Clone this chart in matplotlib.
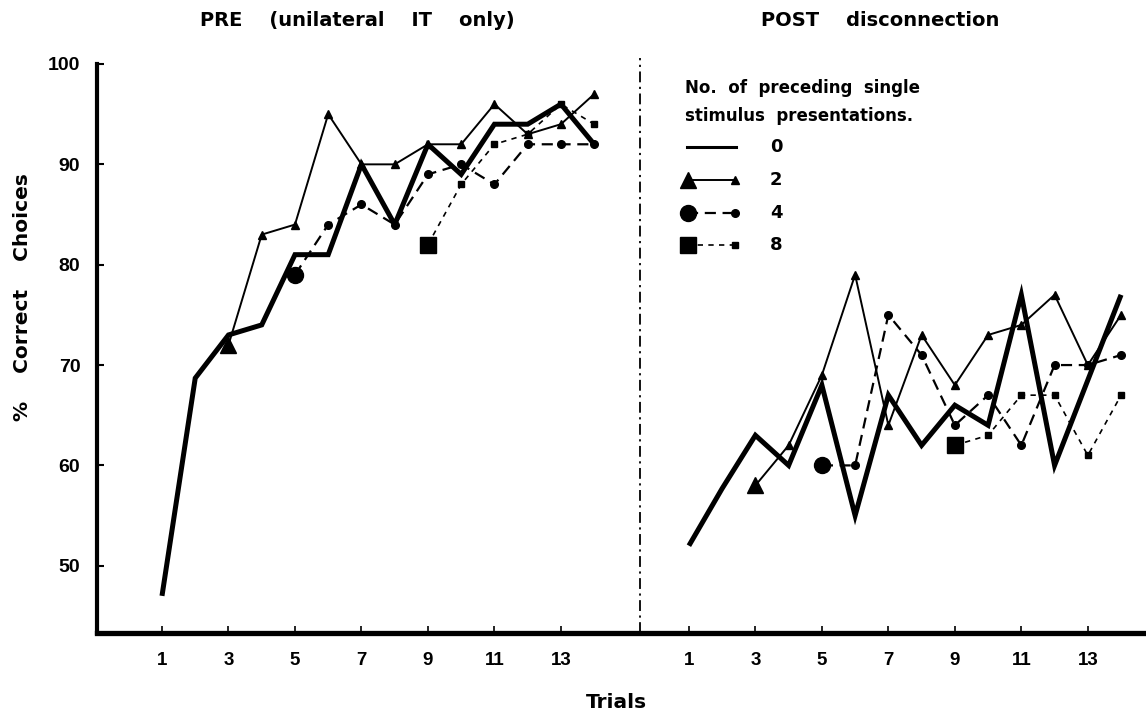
import matplotlib
matplotlib.use("Agg")
import matplotlib.pyplot as plt
import numpy as np

# ---------------- data ----------------
pre_trials_0 = list(range(1, 15))
pre_0 = [47, 68.7, 73, 74, 81, 81, 90, 84, 92, 89, 94, 94, 96, 92]
pre_trials_2 = list(range(3, 15))
pre_2 = [72, 83, 84, 95, 90, 90, 92, 92, 96, 93, 94, 97]
pre_trials_4 = list(range(5, 15))
pre_4 = [79, 84, 86, 84, 89, 90, 88, 92, 92, 92]
pre_trials_8 = list(range(9, 15))
pre_8 = [82, 88, 92, 93, 96, 94]

post_trials_0 = list(range(1, 15))
post_0 = [52, 57.7, 63, 60, 68, 55, 67, 62, 66, 64, 77, 60, 68.5, 77]
post_trials_2 = list(range(3, 15))
post_2 = [58, 62, 69, 79, 64, 73, 68, 73, 74, 77, 70, 75]
post_trials_4 = list(range(5, 15))
post_4 = [60, 60, 75, 71, 64, 67, 62, 70, 70, 71]
post_trials_8 = list(range(9, 15))
post_8 = [62, 63, 67, 67, 61, 67]

tick_trials = [1, 3, 5, 7, 9, 11, 13]
yticks = [50, 60, 70, 80, 90, 100]
legend_labels = ["0", "2", "4", "8"]

# ---------------- style ----------------
TEXT_FONT = ["DejaVu Sans"]
TICK_FONT = ["Liberation Sans", "DejaVu Sans"]
plt.rcParams["font.family"] = TICK_FONT
plt.rcParams["font.weight"] = "bold"

POST_OFFSET = 15.85   # horizontal shift of the POST panel on the shared axis
DIVIDER_X = 15.38

fig = plt.figure(figsize=(11.46, 7.14), dpi=100)
ax = fig.add_axes([97 / 1146, 1 - 633 / 714, 1 - 97 / 1146, (633 - 64) / 714])
ax.set_xlim(-0.955, 30.6)
ax.set_ylim(43.3, 100)

styles = {
    "0": dict(lw=3.6, ls="-", marker=None),
    "2": dict(lw=1.4, ls="-", marker="^", ms_small=5.5, ms_big=11),
    "4": dict(lw=1.6, ls=(0, (5, 3)), marker="o", ms_small=5.5, ms_big=11.5),
    "8": dict(lw=1.2, ls=(0, (3.2, 3.2)), marker="s", ms_small=5.0, ms_big=11.5),
}


def draw(trials, vals, key, offset):
    st = styles[key]
    x = np.asarray(trials, dtype=float) + offset
    y = np.asarray(vals, dtype=float)
    if st["marker"] is None:
        ax.plot(x, y, color="black", lw=st["lw"], ls=st["ls"],
                solid_joinstyle="miter", solid_capstyle="butt", zorder=3)
    else:
        ax.plot(x, y, color="black", lw=st["lw"], ls=st["ls"],
                marker=st["marker"], ms=st["ms_small"], markevery=slice(1, None),
                mec="black", mfc="black", zorder=3)
        ax.plot(x[:1], y[:1], ls="none", marker=st["marker"], ms=st["ms_big"],
                color="black", zorder=4)


for off, sets in [(0, [(pre_trials_0, pre_0, "0"), (pre_trials_2, pre_2, "2"),
                       (pre_trials_4, pre_4, "4"), (pre_trials_8, pre_8, "8")]),
                  (POST_OFFSET, [(post_trials_0, post_0, "0"), (post_trials_2, post_2, "2"),
                                 (post_trials_4, post_4, "4"), (post_trials_8, post_8, "8")])]:
    for t, v, k in sets:
        draw(t, v, k, off)

# divider
ax.axvline(DIVIDER_X, ymin=0, ymax=1.01, color="black", lw=1.3,
           ls=(0, (6, 2.5, 1.2, 2.5)), clip_on=False, zorder=2)

# spines
for s in ["top", "right"]:
    ax.spines[s].set_visible(False)
ax.spines["left"].set_linewidth(3.0)
ax.spines["bottom"].set_linewidth(3.8)
ax.spines["bottom"].set_capstyle("projecting")

# ticks
xt = tick_trials + [t + POST_OFFSET for t in tick_trials]
ax.set_xticks(xt)
ax.set_xticklabels([str(t) for t in tick_trials] * 2)
ax.set_yticks(yticks)
ax.set_yticklabels([str(v) for v in yticks])
ax.tick_params(axis="x", direction="in", length=5, width=1.2, pad=14, labelsize=13.5)
ax.tick_params(axis="y", direction="in", length=5, width=1.5, pad=12, labelsize=14)
for lab in ax.get_xticklabels() + ax.get_yticklabels():
    lab.set_fontweight("bold")

# titles and axis labels
tkw = dict(family=TEXT_FONT, fontweight="bold", ha="center", va="center")
fig.text(357 / 1146, 1 - 21 / 714, "PRE    (unilateral    IT    only)", fontsize=14, **tkw)
fig.text(880 / 1146, 1 - 21 / 714, "POST    disconnection", fontsize=14, **tkw)
fig.text(616 / 1146, 1 - 702 / 714, "Trials", fontsize=14.5, **tkw)
fig.text(23 / 1146, 1 - 297 / 714, "%    Correct    Choices", rotation=90, fontsize=14.5, **tkw)

# legend (drawn manually in figure pixels)
def fx(px):
    return px / 1146


def fy(py):
    return 1 - py / 714


lkw = dict(family=TEXT_FONT, fontweight="bold", ha="left", va="center", fontsize=12)
fig.text(fx(685), fy(88), "No.  of  preceding  single", **lkw)
fig.text(fx(685), fy(116), "stimulus  presentations.", **lkw)
leg_y = [147, 180, 213, 245]
for lab, py in zip(legend_labels, leg_y):
    st = styles[lab]
    line = plt.Line2D([fx(687), fx(736)], [fy(py), fy(py)], transform=fig.transFigure,
                      color="black", lw=2.2 if lab == "0" else st["lw"], ls=st["ls"])
    fig.add_artist(line)
    if st["marker"] is not None:
        fig.add_artist(plt.Line2D([fx(688)], [fy(py)], transform=fig.transFigure,
                                  ls="none", marker=st["marker"], ms=st["ms_big"], color="black"))
        fig.add_artist(plt.Line2D([fx(735)], [fy(py)], transform=fig.transFigure,
                                  ls="none", marker=st["marker"], ms=st["ms_small"], color="black"))
    fig.text(fx(770), fy(py), lab, family=TEXT_FONT, fontweight="bold", ha="left",
             va="center", fontsize=13)

fig.savefig("out.png", dpi=100)
